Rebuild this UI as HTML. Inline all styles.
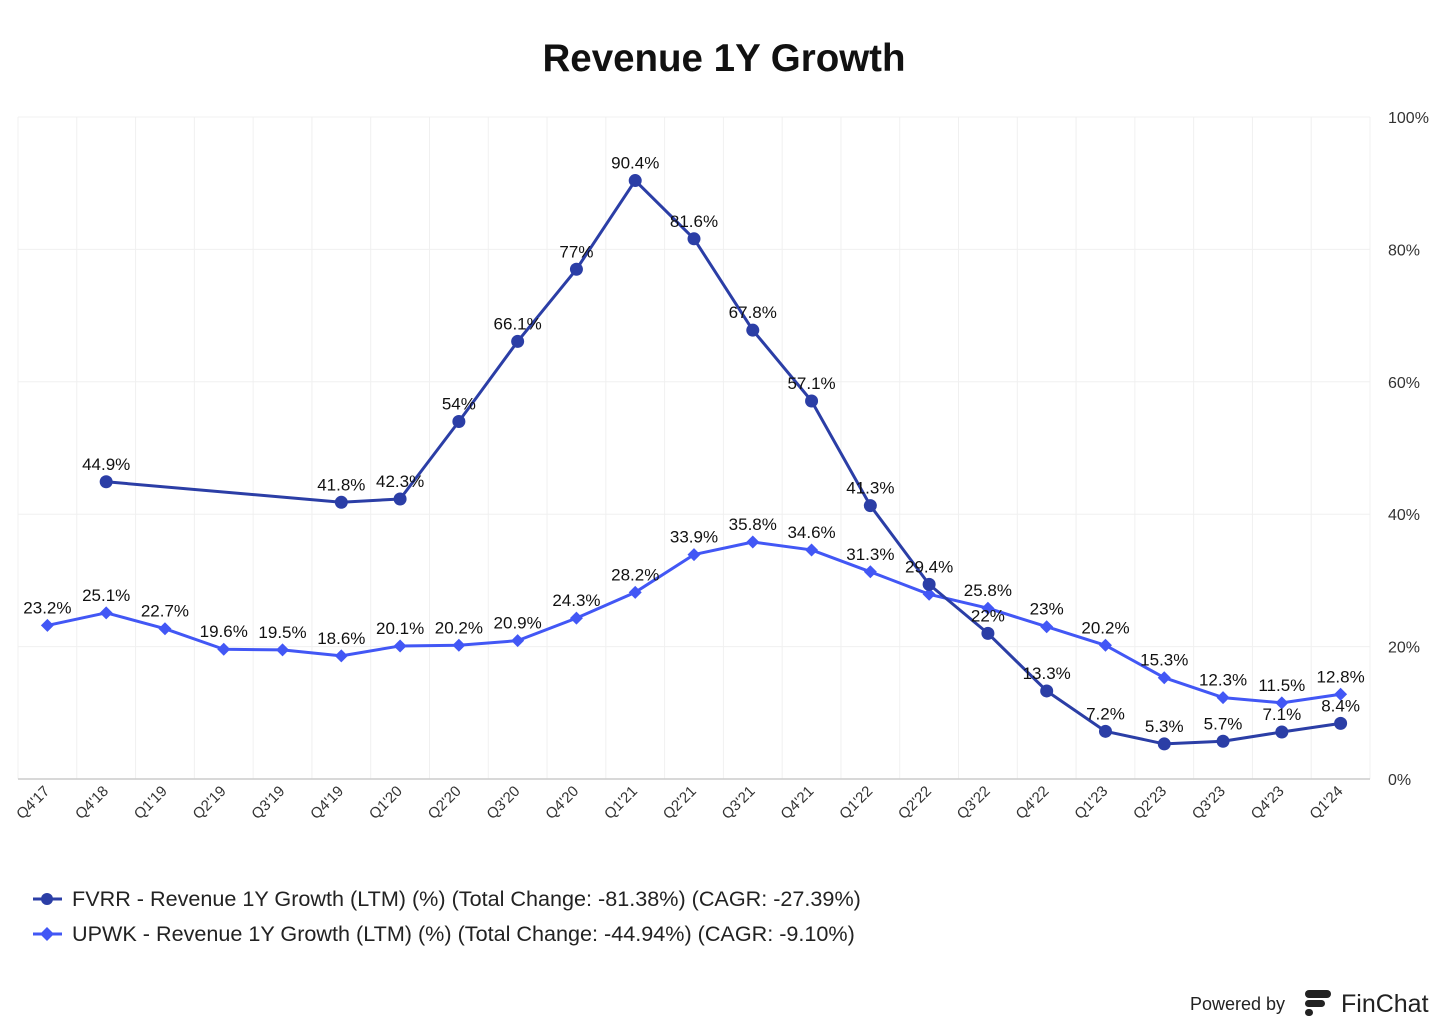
<!DOCTYPE html>
<html><head><meta charset="utf-8"><style>
body{margin:0;background:#fff;font-family:"Liberation Sans",sans-serif;}
svg{display:block}
</style></head><body>
<svg id="chart" width="1456" height="1032">
<text x="724" y="71" text-anchor="middle" font-size="38.5" font-weight="bold" fill="#111">Revenue 1Y Growth</text>
<g id="grid"></g><g id="series"></g>
<g>
<g>
<line x1="33" y1="899" x2="62" y2="899" stroke="#2b3ea6" stroke-width="3"/><circle cx="47" cy="899" r="6" fill="#2b3ea6"/>
<text x="72" y="906" font-size="21.6" fill="#222">FVRR - Revenue 1Y Growth (LTM) (%) (Total Change: -81.38%) (CAGR: -27.39%)</text></g>
<g>
<line x1="33" y1="934" x2="62" y2="934" stroke="#4257f5" stroke-width="3"/><path d="M47 927 L54 934 L47 941 L40 934Z" fill="#4257f5"/>
<text x="72" y="941" font-size="21.6" fill="#222">UPWK - Revenue 1Y Growth (LTM) (%) (Total Change: -44.94%) (CAGR: -9.10%)</text></g>
</g>
<g>
<text x="1190" y="1010" font-size="18" fill="#222">Powered by</text>
<rect x="1305" y="990" width="26" height="8" rx="4" fill="#222"/><rect x="1305" y="1000" width="20" height="7" rx="3.5" fill="#222"/><rect x="1305" y="1009" width="8" height="7" rx="3.5" fill="#222"/>
<text x="1341" y="1012" font-size="25" fill="#222">FinChat</text>
</g>
</svg>
<script>
const categories=["Q4'17","Q4'18","Q1'19","Q2'19","Q3'19","Q4'19","Q1'20","Q2'20","Q3'20","Q4'20","Q1'21","Q2'21","Q3'21","Q4'21","Q1'22","Q2'22","Q3'22","Q4'22","Q1'23","Q2'23","Q3'23","Q4'23","Q1'24"];
const fvrr=[null,44.9,null,null,null,41.8,42.3,54,66.1,77,90.4,81.6,67.8,57.1,41.3,29.4,22,13.3,7.2,5.3,5.7,7.1,8.4];
const upwk=[23.2,25.1,22.7,19.6,19.5,18.6,20.1,20.2,20.9,24.3,28.2,33.9,35.8,34.6,31.3,27.9,25.8,23,20.2,15.3,12.3,11.5,12.8];
const upwkShowLabel=[1,1,1,1,1,1,1,1,1,1,1,1,1,1,1,0,1,1,1,1,1,1,1];
const yTicks=[0,20,40,60,80,100];
const L=18,R=1370,T=117,B=779;
const bw=(R-L)/categories.length;
const xs=i=>L+bw*(i+0.5);
const ys=v=>B-(B-T)*v/100;
const NS="http://www.w3.org/2000/svg";
function mk(tag,attrs,parent,txt){const e=document.createElementNS(NS,tag);for(const k in attrs)e.setAttribute(k,attrs[k]);if(txt!=null)e.textContent=txt;parent.appendChild(e);return e;}
const grid=document.getElementById('grid'),ser=document.getElementById('series');
for(let i=0;i<=categories.length;i++){const l=mk('line',{x1:L+bw*i,x2:L+bw*i,y1:T,y2:B,stroke:'#f0f0f0'},grid);

}
yTicks.forEach(t=>{const l=mk('line',{x1:L,x2:R,y1:ys(t),y2:ys(t),stroke:t?'#f0f0f0':'#ccc','stroke-width':t?1:1.5},grid);


const tx=mk('text',{x:1388,y:ys(t)+6,'font-size':16,fill:'#333'},grid,t+'%');

});
categories.forEach((c,i)=>{const x=xs(i)+3,y=792;const tx=mk('text',{x:x,y:y,'font-size':15,fill:'#333','text-anchor':'end',transform:`rotate(-45 ${x} ${y})`},grid,c);

});
function drawSeries(vals,color,shape,name,show){
 const pts=[];vals.forEach((v,i)=>{if(v!=null)pts.push([xs(i),ys(v),v,i]);});
 const pl=mk('polyline',{points:pts.map(p=>p[0]+','+p[1]).join(' '),fill:'none',stroke:color,'stroke-width':3,'stroke-linejoin':'round'},ser);
 
 
 pts.forEach(p=>{let m;
  if(shape==='circle')m=mk('circle',{cx:p[0],cy:p[1],r:6.5,fill:color},ser);
  else m=mk('path',{d:`M${p[0]} ${p[1]-6.5}L${p[0]+6.5} ${p[1]}L${p[0]} ${p[1]+6.5}L${p[0]-6.5} ${p[1]}Z`,fill:color},ser);
  
  
  if(!show||show[p[3]]){const t=mk('text',{x:p[0],y:p[1]-12,'font-size':17,fill:'#111','text-anchor':'middle'},ser,p[2]+'%');
  
  }
 });
}
drawSeries(upwk,'#4257f5','diamond','upwk',upwkShowLabel);
drawSeries(fvrr,'#2b3ea6','circle','fvrr',null);
</script>
</body></html>
